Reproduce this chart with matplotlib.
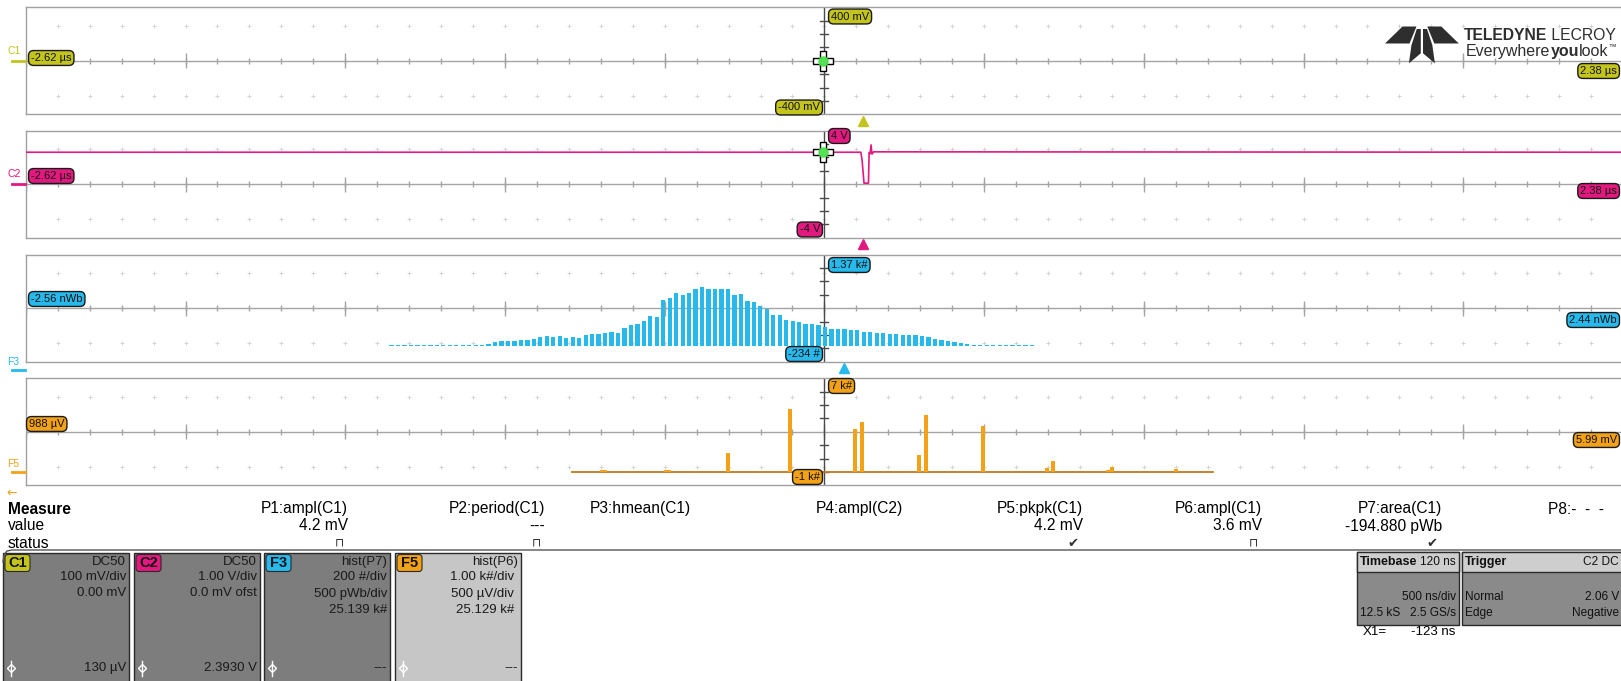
import numpy as np
import matplotlib
matplotlib.use("Agg")
from matplotlib import pyplot as plt
from matplotlib.patches import FancyBboxPatch, Rectangle, Polygon
from matplotlib.transforms import blended_transform_factory

W, H = 1621, 681
plt.rcParams['font.family'] = ['Liberation Sans Narrow', 'Liberation Sans', 'DejaVu Sans']

# trace colours
C1_COL = '#c4c41e'
C2_COL = '#e2197f'
F3_COL = '#27b9ec'
F5_COL = '#f3a116'
GRID = '#a4a4a4'
AXIS = '#4a4a4a'

# ---- data ---------------------------------------------------------------
# C1 / C2 time axis, µs
t_left, t_right = -2.62, 2.38
c2_t = [-2.62, -0.006, -0.002, 0.004, 0.018, 0.020, 0.023, 0.026, 0.029, 0.034, 2.38]
c2_v = [2.39, 2.39, 1.80, 0.08, 0.08, 2.36, 2.28, 2.94, 2.25, 2.42, 2.39]
cursor_x1 = -0.123
c1_cursor_v = 0.00013
c2_cursor_v = 2.393

# F3 = histogram of P7 area, nWb
f3_left, f3_right = -2.56, 2.44
f3_first, f3_last = -1.415, 0.590     # centres of first and last bin
f3_counts = [14, 14, 14, 14, 14, 14, 14, 14, 14, 14, 14, 14, 15, 16, 20, 28,
             63, 72, 72, 77, 86, 90, 108, 135, 144, 140, 158, 122, 135, 126, 171, 176,
             176, 189, 212, 198, 270, 311, 333, 369, 450, 441, 684, 716, 797, 765,
             797, 851, 887, 855, 855, 851, 851, 765, 783, 675, 662, 603, 558, 468,
             459, 392, 378, 360, 333, 324, 311, 279, 257, 257, 257, 234, 248, 212,
             212, 189, 198, 180, 175,
             170, 165, 160, 150, 140, 110, 90, 70, 55, 40, 28, 20, 16, 15, 14, 14,
             14, 14, 14, 14, 14]
f3_marker = 0.0

# F5 = histogram of P6 ampl, mV
f5_left, f5_right = 0.988, 5.99
f5_first, f5_last = 2.699, 4.706
f5_x = [2.793, 2.803, 2.993, 3.003, 3.187, 3.381, 3.585, 3.606, 3.785, 3.806,
        3.986, 4.186, 4.205, 4.377, 4.390, 4.590]
f5_n = [120, 160, 140, 170, 1440, 4720, 3230, 3750, 1300, 4230, 3450, 320, 840,
        170, 400, 200]

# vertical ranges of the four grids (8 div each)
c1_ylim = (-0.4, 0.4)
c2_ylim = (-4.0, 4.0)
f3_ylim = (-234, 1370)
f5_ylim = (-1000, 7000)

# measurement table
meas_names = ['P1:ampl(C1)', 'P2:period(C1)', 'P3:hmean(C1)', 'P4:ampl(C2)',
              'P5:pkpk(C1)', 'P6:ampl(C1)', 'P7:area(C1)']
meas_values = ['4.2 mV', '---', '', '', '4.2 mV', '3.6 mV', '-194.880 pWb']
meas_status = ['pulse', 'pulse', '', '', 'ok', 'pulse', 'ok']

# channel descriptor boxes
desc_names = ['C1', 'C2', 'F3', 'F5']
desc_top = ['DC50', 'DC50', 'hist(P7)', 'hist(P6)']
desc_lines = [['100 mV/div', '0.00 mV', ''],
              ['1.00 V/div', '0.0 mV ofst', ''],
              ['200 #/div', '500 pWb/div', '25.139 k#'],
              ['1.00 k#/div', '500 µV/div', '25.129 k#']]
desc_bottom = ['130 µV', '2.3930 V', '---', '---']

# ---- figure -------------------------------------------------------------
fig = plt.figure(figsize=(W / 100, H / 100), dpi=100)
fig.patch.set_facecolor('white')

panel_tops = [7.3, 130.7, 254.7, 378.3]
panel_h = 107.0
px_l, px_r = 25.8, 1623.0


def draw_grid(ax):
    x0, x1 = ax.get_xlim()
    tr = ax.get_xaxis_transform()
    minor = np.linspace(x0, x1, 51)
    ax.plot([0, 1], [0.5, 0.5], transform=ax.transAxes, color=GRID, lw=1, zorder=1)
    ax.vlines(minor, 0.5 - 0.028, 0.5 + 0.028, transform=tr, color=GRID, lw=1, zorder=1)
    ax.vlines(minor[::5], 0.5 - 0.07, 0.5 + 0.07, transform=tr, color=GRID, lw=1, zorder=1)
    for yf in (0.173, 0.827):
        ax.plot(minor[1:-1], [yf] * 49, ls='none', marker='+', ms=3.2, mew=0.6,
                color='#cfcfcf', transform=tr, zorder=1)
    xc = 0.5 * (x0 + x1)
    ax.vlines([xc], 0, 1, transform=tr, color=AXIS, lw=1, zorder=2)
    dx = (x1 - x0) * 4 / (px_r - px_l)
    for k in (1, 2, 3, 5, 6, 7):
        ax.plot([xc - dx, xc + dx], [k / 8, k / 8], transform=tr, color=AXIS, lw=1, zorder=2)


def add_panel(top, xlim, ylim):
    ax = fig.add_axes([px_l / W, 1 - (top + panel_h) / H, (px_r - px_l) / W, panel_h / H])
    ax.set_xlim(*xlim)
    ax.set_ylim(*ylim)
    ax.set_xticks([])
    ax.set_yticks([])
    for s in ax.spines.values():
        s.set_color('#a0a0a0')
        s.set_linewidth(1)
    draw_grid(ax)
    return ax


def trig_marker(ax, x, col):
    tr = blended_transform_factory(ax.transData, ax.transAxes)
    ax.plot([x], [-0.058], marker='^', ms=7, color=col, transform=tr, clip_on=False)


def crosshair(ax, x, y):
    ax.plot([x], [y], marker='P', ms=15, mfc='white', mec='black', mew=1, zorder=6)
    ax.plot([x], [y], marker='o', ms=6.5, color='#44dd44', alpha=0.9, zorder=7)


ax1 = add_panel(panel_tops[0], (t_left, t_right), c1_ylim)
crosshair(ax1, cursor_x1, c1_cursor_v)
trig_marker(ax1, 0.0, C1_COL)

ax2 = add_panel(panel_tops[1], (t_left, t_right), c2_ylim)
ax2.plot(c2_t, c2_v, color=C2_COL, lw=1.2, zorder=4)
crosshair(ax2, cursor_x1, c2_cursor_v)
trig_marker(ax2, 0.0, C2_COL)

ax3 = add_panel(panel_tops[2], (f3_left, f3_right), f3_ylim)
f3_x = np.linspace(f3_first, f3_last, len(f3_counts))
bw3 = (f3_last - f3_first) / (len(f3_counts) - 1)
ax3.bar(f3_x, f3_counts, width=bw3 * 0.66, color=F3_COL, zorder=3)
trig_marker(ax3, f3_marker, F3_COL)

ax4 = add_panel(panel_tops[3], (f5_left, f5_right), f5_ylim)
ax4.plot([f5_first, f5_last], [0, 0], color='#c07a1a', lw=1.3, zorder=3)
ax4.bar(f5_x, f5_n, width=0.012, color=F5_COL, zorder=4)

# ---- overlay in pixel coordinates --------------------------------------
ui = fig.add_axes([0, 0, 1, 1], zorder=10)
ui.set_xlim(0, W)
ui.set_ylim(H, 0)
ui.axis('off')
ui.patch.set_alpha(0)

LFS = 8


def tag(x, y, text, col, ha='left'):
    ui.text(x, y, text, ha=ha, va='center', fontsize=LFS, color='#111111',
            bbox=dict(boxstyle='round,pad=0.22,rounding_size=0.45', fc=col, ec='#1a1a1a', lw=1))


# panel 1
tag(31, 58, '-2.62 µs', C1_COL)
tag(831, 16.5, '400 mV', C1_COL)
tag(820, 107.5, '-400 mV', C1_COL, ha='right')
tag(1617, 71, '2.38 µs', C1_COL, ha='right')
# panel 2
tag(31, 176, '-2.62 µs', C2_COL)
tag(831, 136, '4 V', C2_COL)
tag(820, 229.5, '-4 V', C2_COL, ha='right')
tag(1617, 191, '2.38 µs', C2_COL, ha='right')
# panel 3
tag(31, 299, '-2.56 nWb', F3_COL)
tag(831, 265, '1.37 k#', F3_COL)
tag(820, 354, '-234 #', F3_COL, ha='right')
tag(1617, 320, '2.44 nWb', F3_COL, ha='right')
# panel 4
tag(29, 424, '988 µV', F5_COL)
tag(831, 386, '7 k#', F5_COL)
tag(820, 477, '-1 k#', F5_COL, ha='right')
tag(1617, 440, '5.99 mV', F5_COL, ha='right')

# channel ground markers at the left edge
for name, col, ty, ly in [('C1', C1_COL, 51, 61), ('C2', C2_COL, 174, 184),
                          ('F3', F3_COL, 362, 370), ('F5', F5_COL, 464, 472)]:
    ui.text(7, ty, name, fontsize=7.5, color=col, va='center', ha='left')
    ui.plot([12, 25], [ly, ly], color=col, lw=2)
ui.text(6, 493, '←', fontsize=9, color=F5_COL, va='center', ha='left', family='DejaVu Sans')

# logo
logo_col = '#2e2e2e'
for poly in [[(1385, 43.5), (1402.5, 26.5), (1416.5, 26.5), (1409.5, 43.5)],
             [(1458.8, 43.5), (1441.3, 26.5), (1427.3, 26.5), (1434.3, 43.5)],
             [(1416.8, 29), (1420.8, 29), (1420.8, 53.3), (1408.9, 63.3), (1411.5, 45)],
             [(1427, 29), (1423, 29), (1423, 53.3), (1434.9, 63.3), (1432.3, 45)]]:
    ui.add_patch(Polygon(poly, closed=True, fc=logo_col, ec='none'))

fig.canvas.draw()
rend = fig.canvas.get_renderer()


def run_text(x, y, parts, **kw):
    inv = ui.transData.inverted()
    for txt, weight, size, dy in parts:
        t = ui.text(x, y + dy, txt, fontweight=weight, fontsize=size, va='baseline', ha='left', **kw)
        bb = t.get_window_extent(renderer=rend)
        x = inv.transform((bb.x1, bb.y0))[0]
    return x


run_text(1464, 40, [('TELEDYNE', 'bold', 11.3, 0), (' LECROY', 'normal', 11.3, 0)], color=logo_col)
run_text(1466, 56, [('Everywhere', 'normal', 11.5, 0), ('you', 'bold', 11.5, 0),
                    ('look', 'normal', 11.5, 0), ('™', 'normal', 5.5, -7)], color=logo_col)

# measurement table
FS = 11.2
rows_y = [509, 526, 543]
ui.text(8, rows_y[0], 'Measure', fontsize=FS, fontweight='bold', va='center')
ui.text(8, rows_y[1], 'value', fontsize=FS, va='center')
ui.text(8, rows_y[2], 'status', fontsize=FS, va='center')
col_right = [348, 545, 691, 903, 1083, 1262, 1442]
for xr, nm, val, st in zip(col_right, meas_names, meas_values, meas_status):
    ui.text(xr, rows_y[0], nm, fontsize=FS, ha='right', va='center')
    if val:
        ui.text(xr, rows_y[1], val, fontsize=FS, ha='right', va='center')
    if st == 'ok':
        ui.text(xr - 4, rows_y[2], '✔', fontsize=9.5, ha='right', va='center', family='DejaVu Sans', color='#333333')
    elif st == 'pulse':
        ui.text(xr - 4, rows_y[2], '⊓', fontsize=8.5, ha='right', va='center', family='DejaVu Sans', color='#333333')
ui.text(1548, rows_y[0], 'P8:-  -  -  ', fontsize=FS, ha='left', va='center')

ui.plot([3, 4, 7, 12, 1621], [562, 555, 551, 550, 550], color='#555555', lw=1)

# descriptor boxes
box_top = 553
box_w = 126
desc_cols = [C1_COL, C2_COL, F3_COL, F5_COL]
for i, (x0, nm) in enumerate(zip([3, 134, 264, 395], desc_names)):
    light = (nm == 'F5')
    fc = '#c6c6c6' if light else '#7d7d7d'
    tc = '#1a1a1a'
    ui.add_patch(Rectangle((x0, box_top), box_w, H - box_top + 3, fc=fc, ec='#2a2a2a', lw=1))
    ui.add_patch(FancyBboxPatch((x0 + 2, box_top + 1.5), 25, 17, boxstyle='round,pad=0,rounding_size=3',
                                fc=desc_cols[i], ec='#2a2a2a', lw=0.8))
    ui.text(x0 + 14.5, box_top + 10, nm, fontsize=10.5, fontweight='bold', ha='center', va='center', color='#111111')
    xr = x0 + box_w - 3 if not light else x0 + box_w - 7
    ui.text(x0 + box_w - 3, box_top + 9, desc_top[i], fontsize=9.5, ha='right', va='center', color=tc)
    for k, line in enumerate(desc_lines[i]):
        ui.text(xr, box_top + 24 + 16.5 * k, line, fontsize=9.5, ha='right', va='center', color=tc)
    ui.text(x0 + box_w - 3, 668, desc_bottom[i], fontsize=9.5, ha='right', va='center', color=tc)
    ui.plot([x0 + 8, x0 + 8], [661, 676], color='white', lw=1)
    ui.plot([x0 + 8], [668], marker='D', ms=4, mfc='none', mec='white', mew=1)


# timebase / trigger boxes
def info_box(x0, x1, head_l, head_r, body):
    ui.add_patch(Rectangle((x0, 552), x1 - x0, 73, fc='#8a8a8a', ec='#2a2a2a', lw=1))
    ui.add_patch(Rectangle((x0, 552), x1 - x0, 20, fc='#cecece', ec='#2a2a2a', lw=1))
    ui.text(x0 + 3, 562, head_l, fontsize=9, fontweight='bold', va='center', color='#111111')
    ui.text(x1 - 3, 562, head_r, fontsize=8.6, ha='right', va='center', color='#111111')
    for k, (l, r) in enumerate(body):
        y = 597 + 16 * k
        if l:
            ui.text(x0 + 3, y, l, fontsize=8.6, va='center', color='#111111')
        if r:
            ui.text(x1 - 3, y, r, fontsize=8.6, ha='right', va='center', color='#111111')


info_box(1357, 1459, 'Timebase', '120 ns', [('', '500 ns/div'), ('12.5 kS', '2.5 GS/s')])
info_box(1462, 1622, 'Trigger', 'C2 DC', [('Normal', '2.06 V'), ('Edge', 'Negative')])
ui.text(1363, 632, 'X1=', fontsize=9.5, va='center')
ui.text(1411, 632, '-123 ns', fontsize=9.5, va='center')

fig.savefig('out.png', dpi=100)
